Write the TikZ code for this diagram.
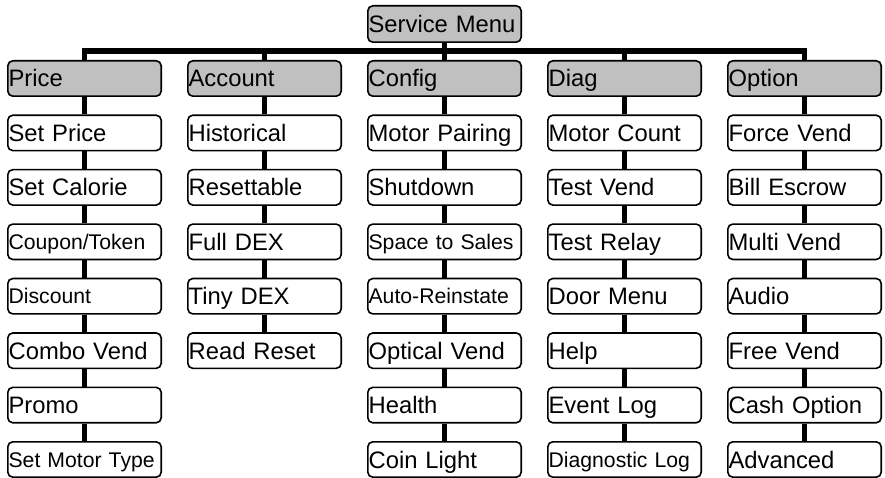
\documentclass[tikz,border=0pt]{standalone}
\usepackage{fontspec}
\setmainfont{Liberation Sans}
\definecolor{headgray}{RGB}{192,192,192}
\begin{document}
\begin{tikzpicture}[x=1pt,y=-1pt,
  box/.style={draw=black, line width=1.6pt, rounded corners=5pt, fill=white,
    minimum height=35.4pt, text width=151.8pt, inner xsep=0.8pt, inner ysep=0pt,
    align=left, font=\fontsize{23.8}{24}\selectfont, text height=17pt, text depth=0pt},
  head/.style={box, fill=headgray},
  small/.style={font=\fontsize{21.2}{21.2}\selectfont, text height=15.2pt},
  conn/.style={line width=5.5pt, line join=miter}]
\useasboundingbox (0,0) rectangle (885,478);

\node[head, minimum height=36.4pt] (sm) at (444.5,24) {Service Menu};

% Price column
\node[head] (p0) at (84.5,78.5) {Price};
\node[box] (p1) at (84.5,132.93) {Set Price};
\node[box] (p2) at (84.5,187.36) {Set Calorie};
\node[box,small] (p3) at (84.5,241.79) {Coupon/Token};
\node[box,small] (p4) at (84.5,296.22) {Discount};
\node[box] (p5) at (84.5,350.65) {Combo Vend};
\node[box] (p6) at (84.5,405.08) {Promo};
\node[box,small] (p7) at (84.5,459.51) {Set Motor Type};

% Account column
\node[head] (a0) at (264.5,78.5) {Account};
\node[box] (a1) at (264.5,132.93) {Historical};
\node[box] (a2) at (264.5,187.36) {Resettable};
\node[box] (a3) at (264.5,241.79) {Full DEX};
\node[box] (a4) at (264.5,296.22) {Tiny DEX};
\node[box] (a5) at (264.5,350.65) {Read Reset};

% Config column
\node[head] (c0) at (444.5,78.5) {Config};
\node[box] (c1) at (444.5,132.93) {Motor Pairing};
\node[box] (c2) at (444.5,187.36) {Shutdown};
\node[box,small] (c3) at (444.5,241.79) {Space to Sales};
\node[box,small] (c4) at (444.5,296.22) {Auto-Reinstate};
\node[box] (c5) at (444.5,350.65) {Optical Vend};
\node[box] (c6) at (444.5,405.08) {Health};
\node[box] (c7) at (444.5,459.51) {Coin Light};

% Diag column
\node[head] (d0) at (624.5,78.5) {Diag};
\node[box] (d1) at (624.5,132.93) {Motor Count};
\node[box] (d2) at (624.5,187.36) {Test Vend};
\node[box] (d3) at (624.5,241.79) {Test Relay};
\node[box] (d4) at (624.5,296.22) {Door Menu};
\node[box] (d5) at (624.5,350.65) {Help};
\node[box] (d6) at (624.5,405.08) {Event Log};
\node[box,small] (d7) at (624.5,459.51) {Diagnostic Log};

% Option column
\node[head] (o0) at (804.5,78.5) {Option};
\node[box] (o1) at (804.5,132.93) {Force Vend};
\node[box] (o2) at (804.5,187.36) {Bill Escrow};
\node[box] (o3) at (804.5,241.79) {Multi Vend};
\node[box] (o4) at (804.5,296.22) {Audio};
\node[box] (o5) at (804.5,350.65) {Free Vend};
\node[box] (o6) at (804.5,405.08) {Cash Option};
\node[box] (o7) at (804.5,459.51) {Advanced};

% tree connectors
\coordinate (bar) at (444.5,51);
\draw[conn] (sm.south) -- (bar);
\draw[conn] (p0.north) |- (bar) -| (o0.north);
\draw[conn] (a0.north) -- (a0.north |- bar);
\draw[conn] (c0.north) -- (c0.north |- bar);
\draw[conn] (d0.north) -- (d0.north |- bar);

\foreach \c/\n in {p/7, a/5, c/7, d/7, o/7}{
  \foreach \i [evaluate=\i as \j using int(\i-1)] in {1,...,\n}{
    \draw[conn] (\c\j.south) -- (\c\i.north);
  }
}
\end{tikzpicture}
\end{document}
